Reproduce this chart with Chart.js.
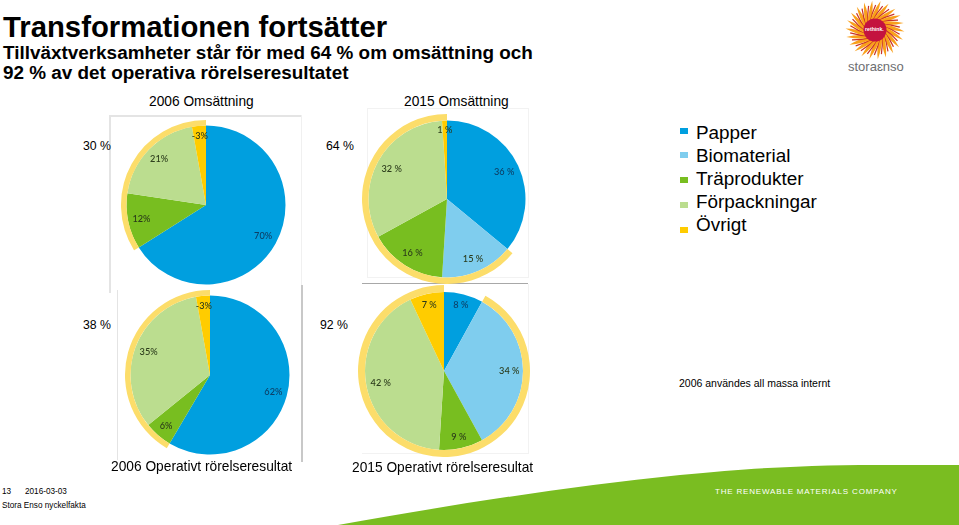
<!DOCTYPE html>
<html lang="sv">
<head>
<meta charset="utf-8">
<title>Transformationen fortsätter</title>
<script src="https://cdn.jsdelivr.net/npm/chart.js@4/dist/chart.umd.min.js"></script>
<style>
html,body{margin:0;padding:0;background:#fff;width:959px;height:525px;overflow:hidden;font-family:"Liberation Sans",Arial,sans-serif;color:#000}
.t{position:absolute;white-space:nowrap;line-height:1}
.f{position:absolute;background:#e4e4e4}
canvas{position:absolute}
svg{position:absolute;left:0;top:0}
</style>
</head>
<body>
<svg width="959" height="525" viewBox="0 0 959 525" id="art">
  <path d="M338 525 C 440 507, 560 487, 680 475 S 860 465, 959 465 L959 525 Z" fill="#7ABD21"/>
</svg>

<div class="f" style="left:110px;top:115px;width:192px;height:2px"></div>
<div class="f" style="left:109px;top:115px;width:2px;height:178px"></div>
<div class="f" style="left:301px;top:115px;width:1px;height:170px;background:#f0f0f0"></div>
<div class="f" style="left:117px;top:290px;width:1px;height:170px"></div>
<div class="f" style="left:301px;top:285px;width:2px;height:177px;background:#c8c8c8"></div>
<div class="f" style="left:367px;top:108px;width:162px;height:1px;background:#f2f2f2"></div>
<div class="f" style="left:367px;top:108px;width:1px;height:170px;background:#f2f2f2"></div>
<div class="f" style="left:528px;top:108px;width:1px;height:170px;background:#f2f2f2"></div>
<div class="f" style="left:367px;top:277px;width:162px;height:1px;background:#f2f2f2"></div>
<div class="f" style="left:362px;top:283px;width:166px;height:1px;background:#a8a8a8"></div>
<div class="f" style="left:528px;top:284px;width:1px;height:170px;background:#f2f2f2"></div>
<div class="f" style="left:362px;top:453px;width:166px;height:1px;background:#f2f2f2"></div>

<canvas id="pieA"></canvas>
<canvas id="pieB"></canvas>
<canvas id="pieC"></canvas>
<canvas id="pieD"></canvas>

<div class="t" style="left:3px;top:12px;font-size:29.3px;font-weight:bold">Transformationen fortsätter</div>
<div class="t" style="left:3px;top:44px;font-size:18.9px;font-weight:bold">Tillväxtverksamheter står för med 64 % om omsättning och</div>
<div class="t" style="left:3px;top:64px;font-size:18.9px;font-weight:bold">92 % av det operativa rörelseresultatet</div>

<div class="t" style="left:149px;top:95px;font-size:13.75px">2006 Omsättning</div>
<div class="t" style="left:404px;top:95px;font-size:13.75px">2015 Omsättning</div>
<div class="t" style="left:83px;top:140px;font-size:12.3px">30 %</div>
<div class="t" style="left:326px;top:140px;font-size:12.3px">64 %</div>
<div class="t" style="left:83px;top:319px;font-size:12.3px">38 %</div>
<div class="t" style="left:320px;top:319px;font-size:12.3px">92 %</div>
<div class="t" style="left:111px;top:460px;font-size:13.75px">2006 Operativt rörelseresultat</div>
<div class="t" style="left:352px;top:461px;font-size:13.75px">2015 Operativt rörelseresultat</div>
<div class="t" style="left:679px;top:378px;font-size:10.5px">2006 användes all massa internt</div>

<div id="legend"></div>

<div class="t" style="left:2px;top:488px;font-size:8.2px">13</div>
<div class="t" style="left:25px;top:488px;font-size:8.2px">2016-03-03</div>
<div class="t" style="left:2px;top:502px;font-size:8.2px">Stora Enso nyckelfakta</div>
<div class="t" style="left:715px;top:488px;font-size:8px;color:#fff;letter-spacing:.82px">THE RENEWABLE MATERIALS COMPANY</div>

<div class="t" style="left:848px;top:60px;font-size:13px;color:#6d6e71">storaɛnso</div>
<div class="t" style="left:865px;top:27px;font-size:5.2px;font-weight:bold;color:#fff">rethink.</div>

<script>
// Data
const categories = ["Papper", "Biomaterial", "Träprodukter", "Förpackningar", "Övrigt"];
const colors = ["#009FDF", "#7FCDEE", "#78BE20", "#BBDD8F", "#FFCC00"];
const ringColor = "#FCDD6A";

const sales2006 = [70, 0, 12, 21, -3];
const sales2015 = [36, 15, 16, 32, 1];
const ebit2006 = [62, 0, 6, 35, -3];
const ebit2015 = [8, 34, 9, 42, 7];

const ringSales2006 = [70, 36];
const ringSales2015 = [36, 64];
const ringEbit2006 = [62, 44];
const ringEbit2015 = [8, 92];

// Labels: end-inside fit, computed from the library's arc geometry
const insideEndLabels = {
  id: "insideEndLabels",
  afterDatasetsDraw(chart, args, opts) {
    const ctx = chart.ctx;
    const meta = chart.getDatasetMeta(1);
    const values = chart.data.datasets[1].data;
    ctx.save();
    ctx.font = "500 9.2px Lato, 'Open Sans', sans-serif";
    ctx.textAlign = "center";
    ctx.textBaseline = "middle";
    meta.data.forEach((arc, i) => {
      if (values[i] === 0) return;
      const p = arc.getProps(["x", "y", "startAngle", "endAngle", "outerRadius"], true);
      const mid = (p.startAngle + p.endAngle) / 2;
      const text = values[i] + opts.suffix;
      const hw = ctx.measureText(text).width / 2, hh = 6;
      const r = p.outerRadius - 3.5 - (hw * Math.abs(Math.cos(mid)) + hh * Math.abs(Math.sin(mid)));
      ctx.fillStyle = i === 0 ? "#0C3F66" : "#2A3A1A";
      ctx.fillText(text, p.x + r * Math.cos(mid), p.y + r * Math.sin(mid));
    });
    ctx.restore();
  }
};

function pie(id, cx, cy, pieR, ringR, values, ring, suffix) {
  const el = document.getElementById(id);
  const size = ringR * 2;
  el.style.left = (cx - ringR) + "px";
  el.style.top = (cy - ringR) + "px";
  el.style.width = size + "px";
  el.style.height = size + "px";
  el.width = size; el.height = size;
  return new Chart(el, {
    type: "doughnut",
    data: {
      labels: categories,
      datasets: [
        { data: ring, backgroundColor: ["rgba(0,0,0,0)", ringColor], borderWidth: 0, weight: ringR - pieR },
        { data: values, backgroundColor: colors, borderWidth: 0, weight: pieR }
      ]
    },
    options: {
      responsive: false,
      animation: false,
      cutout: 0,
      devicePixelRatio: window.devicePixelRatio || 1,
      layout: { padding: 0 },
      plugins: {
        legend: { display: false },
        tooltip: { enabled: false },
        insideEndLabels: { suffix }
      }
    },
    plugins: [insideEndLabels]
  });
}

pie("pieA", 205.5, 204.5, 79.5, 85, sales2006, ringSales2006, "%");
pie("pieB", 446.5, 198.5, 78.5, 85, sales2015, ringSales2015, " %");
pie("pieC", 209.5, 374.5, 79.5, 85, ebit2006, ringEbit2006, "%");
pie("pieD", 444, 370.5, 79, 86, ebit2015, ringEbit2015, " %");

// Legend
const legend = document.getElementById("legend");
const legendTextTops = [124, 147, 170, 193, 216];
const legendBoxTops = [128, 152, 177, 202, 227];
categories.forEach((c, i) => {
  const box = document.createElement("div");
  box.style.cssText = `position:absolute;left:680px;top:${legendBoxTops[i]}px;width:8px;height:5.5px;background:${colors[i]}`;
  const label = document.createElement("div");
  label.className = "t";
  label.style.cssText = `left:696px;top:${legendTextTops[i]}px;font-size:18.9px`;
  label.textContent = c;
  legend.append(box, label);
});

// Logo
(function () {
  const svg = document.getElementById("art");
  const NS = "http://www.w3.org/2000/svg";
  const cx = 875, cy = 30;
  const add = (tag, attrs) => { const e = document.createElementNS(NS, tag); for (const k in attrs) e.setAttribute(k, attrs[k]); svg.appendChild(e); };
  const pt = (r, a) => (cx + r * Math.cos(a)).toFixed(2) + " " + (cy + r * Math.sin(a)).toFixed(2);
  for (let i = 0; i < 22; i++) {
    const a = i * 2 * Math.PI / 22, b = a + 0.62, m = a + 0.42;
    add("path", { d: `M${pt(9, a - 0.2)} Q${pt(18, m - 0.14)} ${pt(29.5, b)} Q${pt(18, m + 0.22)} ${pt(9, a + 0.2)} Z`, fill: "#F9A01B" });
    add("path", { d: `M${pt(9, a + 0.14)} Q${pt(17, m + 0.1)} ${pt(25, b + 0.12)}`, stroke: "#C8322A", "stroke-width": "1.2", fill: "none" });
  }
  add("circle", { cx, cy, r: 11.5, fill: "#C4123F" });
})();
</script>
</body>
</html>
